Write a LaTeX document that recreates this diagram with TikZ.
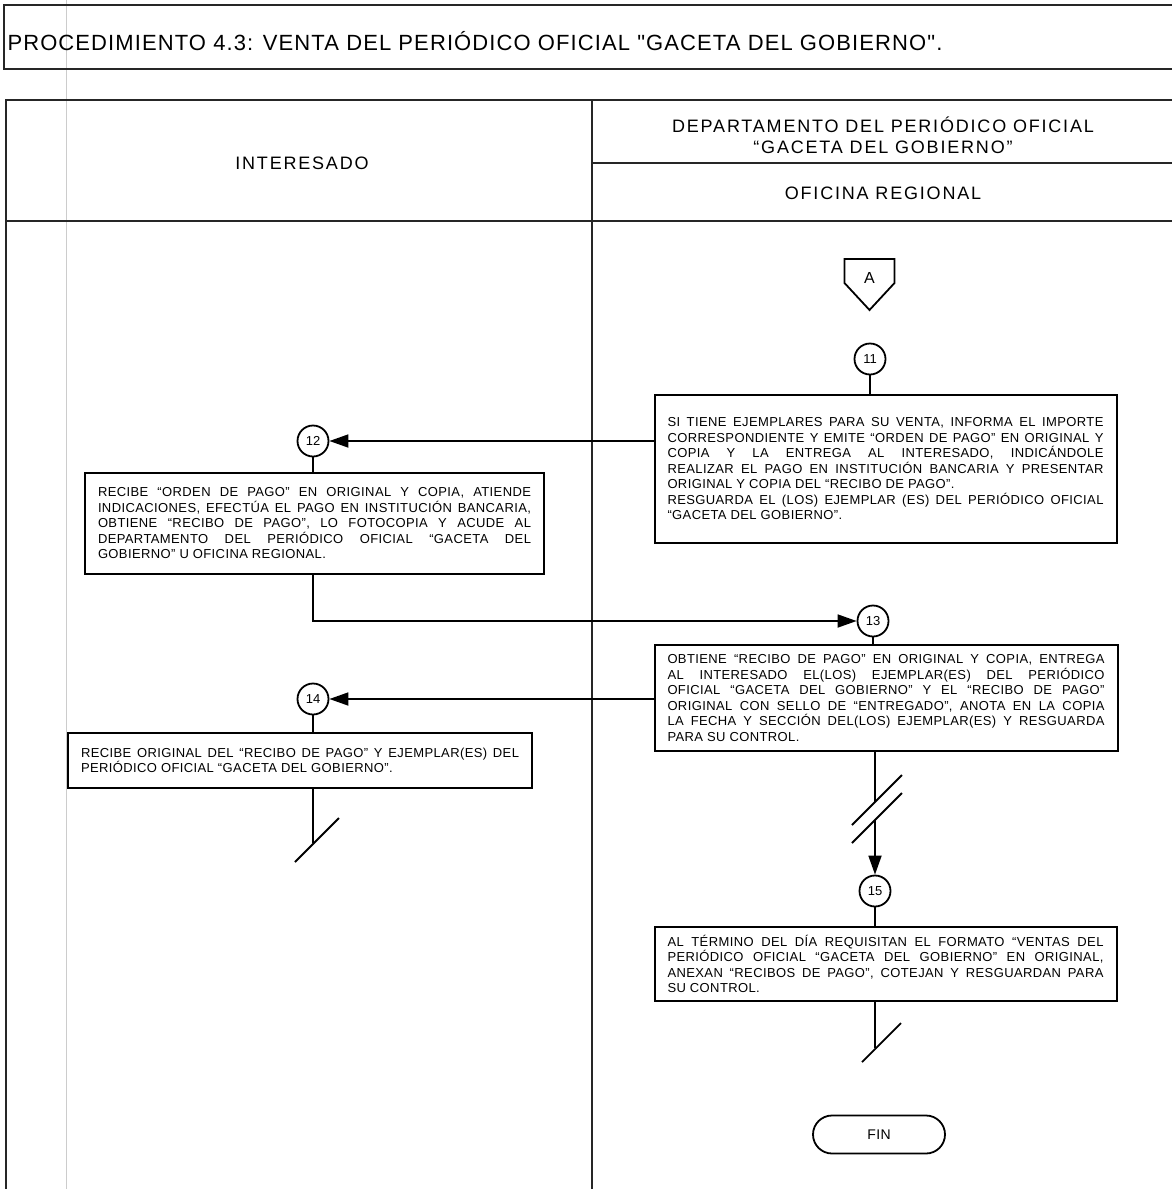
\documentclass[tikz,border=0pt]{standalone}
\usepackage{fontspec}
\setmainfont{Liberation Sans}
\newfontfamily\cuerpo[LetterSpace=3]{Liberation Sans}
\newfontfamily\encab[LetterSpace=10]{Liberation Sans}
\newfontfamily\tit[LetterSpace=5]{Liberation Sans}
\usetikzlibrary{arrows.meta,calc}

\hbadness=10000
\tikzset{
  linea/.style={line width=1.8pt},
  marco/.style={line width=2.2pt, black!85},
  caja/.style={draw, line width=2pt, inner xsep=13pt, inner ysep=0pt, align=justify,
    font=\cuerpo\fontsize{13}{15.5}\selectfont},
  paso/.style={circle, draw, fill=white, line width=1.8pt, minimum size=31pt, inner sep=0pt,
    font=\fontsize{13}{13}\selectfont},
  flecha/.style={linea, -{Triangle[length=19pt,width=13pt]}},
  encabezado/.style={anchor=base, font=\encab\fontsize{18}{22}\selectfont},
}

\begin{document}
\begin{tikzpicture}[x=1pt,y=-1pt]
    \useasboundingbox (0,0) rectangle (1172,1189);

    % Draw frame and lanes
    \draw[gray!40, line width=1pt] (66,0) -- (66,1189);
    \draw[marco] (4,5) rectangle (1185,69);
    \node[anchor=base west, font=\tit\fontsize{22}{26}\selectfont] (title) at (4,50)
        {PROCEDIMIENTO 4.3: VENTA DEL PERIÓDICO OFICIAL "GACETA DEL GOBIERNO".};

    \draw[marco] (1185,100) -| (6,1195);
    \draw[marco] (6,221) -- (1185,221);
    \draw[marco] (592,100) -- (592,1195);
    \draw[marco] (592,163) -- (1185,163);

    \node[encabezado] (interesado) at (302,169) {INTERESADO};
    \node[encabezado] (depto) at (883,132) {DEPARTAMENTO DEL PERIÓDICO OFICIAL};
    \node[encabezado] (gaceta) at (883,153) {“GACETA DEL GOBIERNO”};
    \node[encabezado] (oficina) at (883,199) {OFICINA REGIONAL};

    % Steps
    \node[font=\fontsize{16}{16}\selectfont] (A) at (869.5,278) {A};
    \draw[linea] ($(A)+(-25,-19)$) -- ($(A)+(25,-19)$) -- ($(A)+(25,5)$)
        -- ($(A)+(0,32)$) -- ($(A)+(-25,5)$) -- cycle;

    \node[paso] (c11) at (870,359) {11};
    \node[caja, text width=436pt, minimum height=148pt] (b11) at (885.5,469)
        {SI TIENE EJEMPLARES PARA SU VENTA, INFORMA EL IMPORTE\linebreak
         CORRESPONDIENTE Y EMITE “ORDEN DE PAGO” EN ORIGINAL Y\linebreak
         COPIA Y LA ENTREGA AL INTERESADO, INDICÁNDOLE\linebreak
         REALIZAR EL PAGO EN INSTITUCIÓN BANCARIA Y PRESENTAR\linebreak
         ORIGINAL Y COPIA DEL “RECIBO DE PAGO”.\\
         RESGUARDA EL (LOS) EJEMPLAR (ES) DEL PERIÓDICO OFICIAL\linebreak
         “GACETA DEL GOBIERNO”.};

    \node[paso] (c12) at (313,441) {12};
    \node[caja, text width=433pt, minimum height=101pt] (b12) at (314.5,523.5)
        {RECIBE “ORDEN DE PAGO” EN ORIGINAL Y COPIA, ATIENDE\linebreak
         INDICACIONES, EFECTÚA EL PAGO EN INSTITUCIÓN BANCARIA,\linebreak
         OBTIENE “RECIBO DE PAGO”, LO FOTOCOPIA Y ACUDE AL\linebreak
         DEPARTAMENTO DEL PERIÓDICO OFICIAL “GACETA DEL\linebreak
         GOBIERNO” U OFICINA REGIONAL.};

    \node[paso] (c13) at (873,621) {13};
    \node[caja, text width=437pt, minimum height=106pt] (b13) at (886,698)
        {OBTIENE “RECIBO DE PAGO” EN ORIGINAL Y COPIA, ENTREGA\linebreak
         AL INTERESADO EL(LOS) EJEMPLAR(ES) DEL PERIÓDICO\linebreak
         OFICIAL “GACETA DEL GOBIERNO” Y EL “RECIBO DE PAGO”\linebreak
         ORIGINAL CON SELLO DE “ENTREGADO”, ANOTA EN LA COPIA\linebreak
         LA FECHA Y SECCIÓN DEL(LOS) EJEMPLAR(ES) Y RESGUARDA\linebreak
         PARA SU CONTROL.};

    \node[paso] (c14) at (313,699) {14};
    \node[caja, text width=438pt, minimum height=55pt] (b14) at (300,760.5)
        {RECIBE ORIGINAL DEL “RECIBO DE PAGO” Y EJEMPLAR(ES) DEL\linebreak
         PERIÓDICO OFICIAL “GACETA DEL GOBIERNO”.};

    \node[paso] (c15) at (875,891) {15};
    \node[caja, text width=436pt, minimum height=74pt] (b15) at (885.5,964)
        {AL TÉRMINO DEL DÍA REQUISITAN EL FORMATO “VENTAS DEL\linebreak
         PERIÓDICO OFICIAL “GACETA DEL GOBIERNO” EN ORIGINAL,\linebreak
         ANEXAN “RECIBOS DE PAGO”, COTEJAN Y RESGUARDAN PARA\linebreak
         SU CONTROL.};

    \node[draw, line width=1.8pt, rounded corners=19pt, minimum width=132pt, minimum height=38pt,
        font=\cuerpo\fontsize{14}{14}\selectfont] (fin) at (879,1134.5) {FIN};

    % Connectors
    \draw[linea] (c11) -- (c11 |- b11.north);
    \draw[flecha] (b11.west |- c12) -- (c12);
    \draw[linea] (c12) -- (c12 |- b12.north);
    \draw[flecha] (b12.south -| c12) |- (c13);
    \draw[linea] (c13) -- (c13 |- b13.north);
    \draw[flecha] (b13.west |- c14) -- (c14);
    \draw[linea] (c14) -- (c14 |- b14.north);

    \coordinate (e14) at (313,843);
    \draw[linea] (b14.south -| c14) -- (e14);
    \draw[linea] ($(e14)+(-18,19)$) -- ($(e14)+(26,-25)$);

    \coordinate (s1) at (875,802);
    \coordinate (s2) at (875,820);
    \draw[linea] (b13.south -| c15) -- (s1);
    \draw[linea] ($(s1)+(-23,23)$) -- ($(s1)+(27,-27)$);
    \draw[linea] ($(s2)+(-23,23)$) -- ($(s2)+(27,-27)$);
    \draw[flecha] (s2) -- (c15);
    \draw[linea] (c15) -- (c15 |- b15.north);

    \coordinate (e15) at (875,1048);
    \draw[linea] (b15.south -| c15) -- (e15);
    \draw[linea] ($(e15)+(-13,14)$) -- ($(e15)+(26,-25)$);
\end{tikzpicture}
\end{document}
